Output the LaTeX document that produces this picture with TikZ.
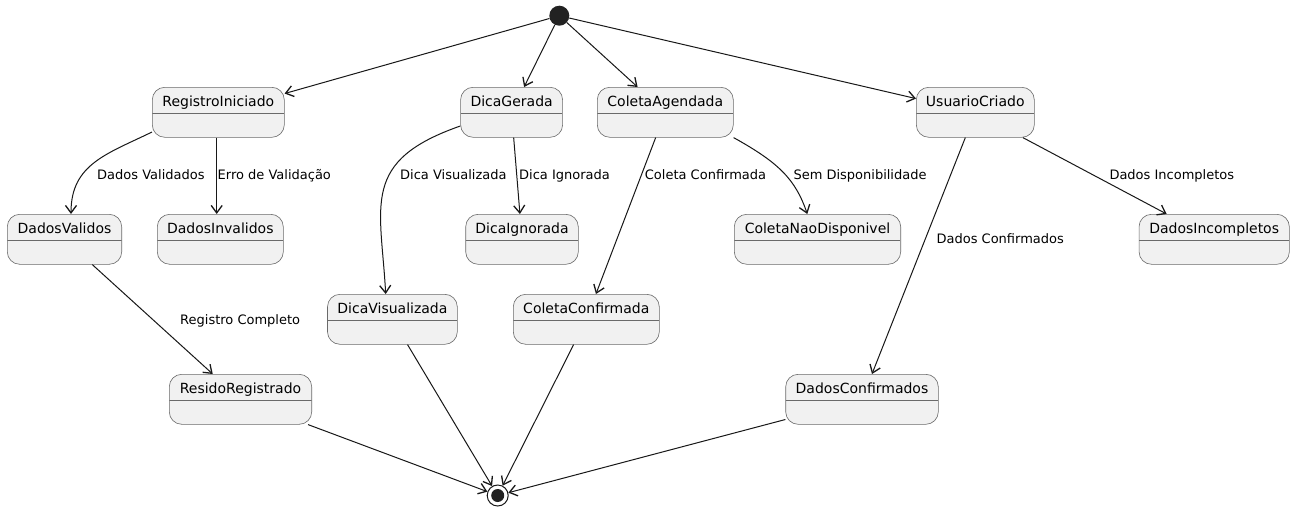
\documentclass[tikz,border=0pt]{standalone}
\usepackage{fontspec}
\setmainfont{DejaVu Sans}
\usetikzlibrary{arrows.meta}
\definecolor{ink}{HTML}{181818}
\definecolor{edge}{HTML}{6A6A6A}
\definecolor{statefill}{HTML}{F1F1F1}
\definecolor{dot}{HTML}{222222}
\tikzset{
  statebox/.style={rectangle, rounded corners=12.5pt, draw=edge, line width=0.6pt,
    fill=statefill, inner xsep=0pt, inner ysep=0pt,
    text height=18.7pt, text depth=31.3pt,
    font=\fontsize{14pt}{16pt}\selectfont,
    path picture={\draw[edge, line width=0.6pt]
      ([yshift=-26pt]path picture bounding box.north west) --
      ([yshift=-26pt]path picture bounding box.north east);}},
  initdot/.style={circle, fill=dot, minimum size=20pt, inner sep=0pt},
  enddot/.style={circle, draw=ink, line width=1pt, fill=white, minimum size=21pt,
    inner sep=0pt,
    path picture={\fill[dot] (path picture bounding box.center) circle (6.5pt);}},
  trans/.style={draw=ink, line width=1pt,
    -{Straight Barb[length=7.5pt, width=11pt, line width=1.3pt]}},
  lbl/.style={anchor=base west, inner sep=0pt, font=\fontsize{13pt}{15pt}\selectfont, text=black},
}
\begin{document}
\begin{tikzpicture}[x=1pt, y=1pt]
  \fill[white] (0,0) rectangle (1295,-512);
  \useasboundingbox (0,0) rectangle (1295,-512);

  % pseudo states
  \node[initdot] (init) at (559.3,-15.7) {};
  \node[enddot] (fin) at (497.7,-495.5) {};

  % first row
  \node[statebox, minimum width=132pt] (ri) at (218.3,-112.3) {RegistroIniciado};
  \node[statebox, minimum width=102pt] (dg) at (511.6,-112.3) {DicaGerada};
  \node[statebox, minimum width=136pt] (ca) at (665.3,-112.3) {ColetaAgendada};
  \node[statebox, minimum width=118pt] (uc) at (975.3,-112.3) {UsuarioCriado};

  % second row
  \node[statebox, minimum width=114.4pt] (dv) at (64.5,-239.3) {DadosValidos};
  \node[statebox, minimum width=126pt] (dinv) at (220.3,-239.3) {DadosInvalidos};
  \node[statebox, minimum width=112.6pt] (dign) at (522,-239.3) {DicaIgnorada};
  \node[statebox, minimum width=166.4pt] (cnd) at (817.5,-239.3) {ColetaNaoDisponivel};
  \node[statebox, minimum width=150.3pt] (dinc) at (1214.2,-239.3) {DadosIncompletos};

  % third row
  \node[statebox, minimum width=129.8pt] (dvis) at (392.4,-319.3) {DicaVisualizada};
  \node[statebox, minimum width=146pt] (ccf) at (586.3,-319.3) {ColetaConfirmada};

  % fourth row
  \node[statebox, minimum width=142.4pt] (rr) at (240.5,-399.3) {ResidoRegistrado};
  \node[statebox, minimum width=152.6pt] (dcf) at (862,-399.3) {DadosConfirmados};

  % transitions from the initial state
  \draw[trans] (init) -- (ri);
  \draw[trans] (init) -- (dg);
  \draw[trans] (init) -- (ca);
  \draw[trans] (init) -- (uc);

  % registration branch
  \draw[trans] ([yshift=5.6pt]ri.south west) .. controls +(-45,-22) and +(0,50) .. ([xshift=6.5pt]dv.north);
  \draw[trans] ([xshift=-1.6pt]ri.south) -- ([xshift=-3.6pt]dinv.north);
  \draw[trans] (dv) -- (rr);

  % tip branch
  \draw[trans] ([yshift=11.6pt]dg.south west) .. controls +(-100,-35) and +(-5,90) .. ([xshift=-6.7pt]dvis.north);
  \draw[trans] (dg) -- (dign);

  % collection branch
  \draw[trans] (ca) -- (ccf);
  \draw[trans] (ca.south east) .. controls +(45,-25) and +(-12,35) .. ([xshift=-10.2pt]cnd.north);

  % user branch
  \draw[trans] (uc) -- (dcf);
  \draw[trans] (uc) -- (dinc);

  % into the final state
  \draw[trans] (rr) -- (fin);
  \draw[trans] (dvis) -- (fin);
  \draw[trans] (ccf) -- (fin);
  \draw[trans] (dcf) -- (fin);

  % transition labels
  \node[lbl] (l1) at (97,-179.5) {Dados Validados};
  \node[lbl] (l2) at (217.5,-179.5) {Erro de Validação};
  \node[lbl] (l3) at (400,-179.5) {Dica Visualizada};
  \node[lbl] (l4) at (519,-179.5) {Dica Ignorada};
  \node[lbl] (l5) at (644.7,-179.5) {Coleta Confirmada};
  \node[lbl] (l6) at (793.3,-179.5) {Sem Disponibilidade};
  \node[lbl] (l7) at (1109.3,-179.5) {Dados Incompletos};
  \node[lbl] (l8) at (936.4,-243.8) {Dados Confirmados};
  \node[lbl] (l9) at (180,-324) {Registro Completo};
\end{tikzpicture}
\end{document}
